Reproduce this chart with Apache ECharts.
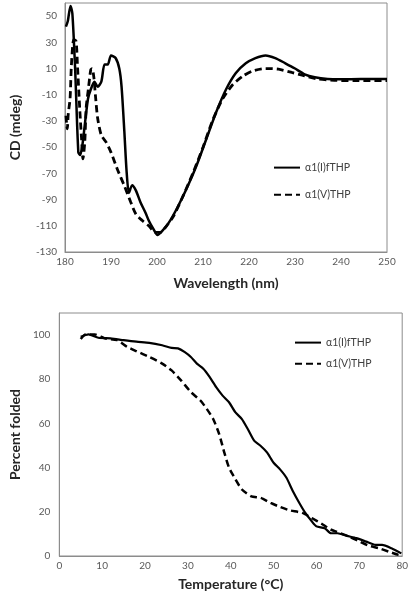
<!DOCTYPE html>
<html><head><meta charset="utf-8">
<script src="https://cdn.jsdelivr.net/npm/echarts@6/dist/echarts.min.js"></script>
<style>html,body{margin:0;padding:0;background:#fff}#c{width:411px;height:599px}</style>
</head><body><div id="c"></div>
<script>
// CD spectra
var cdWaveI = [180.2,180.6,181.2,181.6,182.2,182.9,183.3,183.8,184.3,185,185.6,186.4,187.1,187.9,188.6,189.3,190,191,191.8,192.3,192.9,193.4,193.9,194.6,195.4,196.4,197.5,198.2,199.3,200.1,201.1,202.5,204.3,206.4,208.6,210.7,212.9,215,217.1,219.3,221.4,223.6,225.7,227.9,230,232.1,234.3,237.1,240,244.3,250];
var cdValI  = [42,46,57.7,52,10,-54,-56,-48,-33,-13,-6,0,-4,0,13,13,20,18,10,-4,-38,-69,-85,-79,-83,-92,-100,-106,-113,-117,-114,-108,-97,-82,-64,-44,-23,-6,6.4,14,18,20,18,14,10,5.6,3.3,2,1.8,2,2];
var cdWaveV = [180.2,180.5,180.7,181.1,181.4,181.9,182.4,182.7,183.2,183.6,183.9,184.3,184.6,185.1,185.6,185.9,186.3,186.6,187.1,187.9,188.9,190,191.4,192.9,194.3,195.4,196.8,198.2,199.6,200.7,202.1,203.6,205.7,207.9,210,212.1,214.3,216.4,218.6,220.7,223.6,226.4,229.3,232.1,235,238.6,242.9,250];
var cdValV  = [-26,-36,-25,-13,13,32,31,13,-20.5,-43.6,-59,-46,-20,-5,9,10,2.5,-10,-28,-41,-46,-54,-67,-79.5,-92,-101,-106,-110,-115,-115,-110,-102.5,-87,-69,-50,-29.5,-13,-2.6,4,8,10,9.5,7,4.4,2,1,0.8,0.8];
var cdTicks = [-130,-110,-90,-70,-50,-30,-10,10,30,50];

// Thermal melt
var tmTempI = [5,6.8,9.1,12,15,18,21,24,26.2,27.7,29.2,30.7,32.1,33.6,35.1,36.6,38.1,39.6,41.1,42.6,44,45.5,47,48.5,50,51.5,53,54.5,56,57.4,58.9,60,61.9,63.4,64.9,67.1,69.3,71.6,73.8,75.3,77.5,79.8];
var tmValI  = [99.2,100.3,98.8,98.5,97.7,97,96.5,95.4,94.2,94,92.4,90.1,87.1,84.8,81,76.4,72.6,69.6,65,62,57.4,52.1,49.8,46.8,42.2,39.2,35.4,29.3,24,19.5,15.7,13.4,12.6,10.3,10.3,9.1,8.1,6.5,5,5,3.5,1.2];
var tmTempV = [5,6.1,8.3,10.6,13.5,15.8,18,21,24,26.2,28.4,30.7,32.9,34.4,35.9,37.3,38.5,39.6,41.1,42.6,44.8,47,49.3,51.5,53.7,56.7,58.9,61.2,63.4,65.6,67.9,70.1,72.3,74.6,76.8,79.1,80];
var tmValV  = [98.2,100.3,100.3,98.5,97.7,94.7,92.7,90.1,87.1,84,79.5,74.2,70.4,66.6,62,55.2,46.8,40,34.7,30.1,27,26.3,24,22.2,20.7,19.5,17.2,14.6,11.9,10.3,8.5,6.5,4.6,3.5,2,0.5,0.3];

function zip(a,b){return a.map(function(v,i){return [v,b[i]];});}

var FONT = 'Lato';
var labelStyle = {color:'#595959', fontSize:10, fontFamily:FONT};
var nameStyle = {color:'#262626', fontSize:14, fontWeight:'bold', fontFamily:FONT};
var box = '#8c8c8c';

var chart = echarts.init(document.getElementById('c'), null, {renderer:'canvas'});
chart.setOption({
  animation:false,
  backgroundColor:'#fff',
  grid:[
    {left:60, top:3, width:327, height:249, show:true, borderColor:box, borderWidth:1, containLabel:false},
    {left:46, top:313, width:358, height:243, show:true, borderColor:box, borderWidth:1, containLabel:false}
  ],
  xAxis:[
    {gridIndex:0, type:'value', min:180, max:250, interval:10,
     axisLine:{show:true, onZero:false, lineStyle:{color:box}}, axisTick:{show:false}, splitLine:{show:false},
     axisLabel:Object.assign({margin:5}, labelStyle),
     name:'Wavelength (nm)', nameLocation:'middle', nameGap:24, nameTextStyle:nameStyle},
    {gridIndex:1, type:'value', min:0, max:80, interval:10,
     axisLine:{show:true, onZero:false, lineStyle:{color:box}}, axisTick:{show:false}, splitLine:{show:false},
     axisLabel:Object.assign({margin:5}, labelStyle),
     name:'Temperature (°C)', nameLocation:'middle', nameGap:21, nameTextStyle:nameStyle}
  ],
  yAxis:[
    {gridIndex:0, type:'value', min:-130, max:60, interval:10,
     axisLine:{show:true, onZero:false, lineStyle:{color:box}}, axisTick:{show:false}, splitLine:{show:false},
     axisLabel:Object.assign({margin:8, formatter:function(v){return cdTicks.indexOf(v)>=0?String(v):'';}}, labelStyle),
     name:'CD (mdeg)', nameLocation:'middle', nameGap:43, nameTextStyle:nameStyle},
    {gridIndex:1, type:'value', min:0, max:110, interval:10,
     axisLine:{show:true, onZero:false, lineStyle:{color:box}}, axisTick:{show:false}, splitLine:{show:false},
     axisLabel:Object.assign({margin:9, formatter:function(v){return (v%20===0 && v<=100)?String(v):'';}}, labelStyle),
     name:'Percent folded', nameLocation:'middle', nameGap:27, nameTextStyle:nameStyle}
  ],
  legend:[
    {orient:'vertical', left:268, top:157, itemWidth:26, itemHeight:14, itemGap:16,
     itemStyle:{opacity:0},
     textStyle:{color:'#404040', fontSize:10.5, fontFamily:FONT},
     data:['α1(I)fTHP','α1(V)THP']},
    {orient:'vertical', left:289, top:332, itemWidth:26, itemHeight:14, itemGap:10,
     itemStyle:{opacity:0},
     textStyle:{color:'#404040', fontSize:10.5, fontFamily:FONT},
     data:['α1(I)fTHP ','α1(V)THP ']}
  ],
  series:[
    {name:'α1(I)fTHP', type:'line', xAxisIndex:0, yAxisIndex:0, data:zip(cdWaveI,cdValI),
     showSymbol:false, symbol:'none', smooth:0.25, lineStyle:{color:'#000', width:2.5}, itemStyle:{color:'#000'}},
    {name:'α1(V)THP', type:'line', xAxisIndex:0, yAxisIndex:0, data:zip(cdWaveV,cdValV),
     showSymbol:false, symbol:'none', smooth:0.25, lineStyle:{color:'#000', width:2.8, type:[7,4]}, itemStyle:{color:'#000'}},
    {name:'α1(I)fTHP ', type:'line', xAxisIndex:1, yAxisIndex:1, data:zip(tmTempI,tmValI),
     showSymbol:false, symbol:'none', smooth:0.2, lineStyle:{color:'#000', width:2.2}, itemStyle:{color:'#000'}},
    {name:'α1(V)THP ', type:'line', xAxisIndex:1, yAxisIndex:1, data:zip(tmTempV,tmValV),
     showSymbol:false, symbol:'none', smooth:0.2, lineStyle:{color:'#000', width:2.5, type:[7,4]}, itemStyle:{color:'#000'}}
  ]
});
</script></body></html>
